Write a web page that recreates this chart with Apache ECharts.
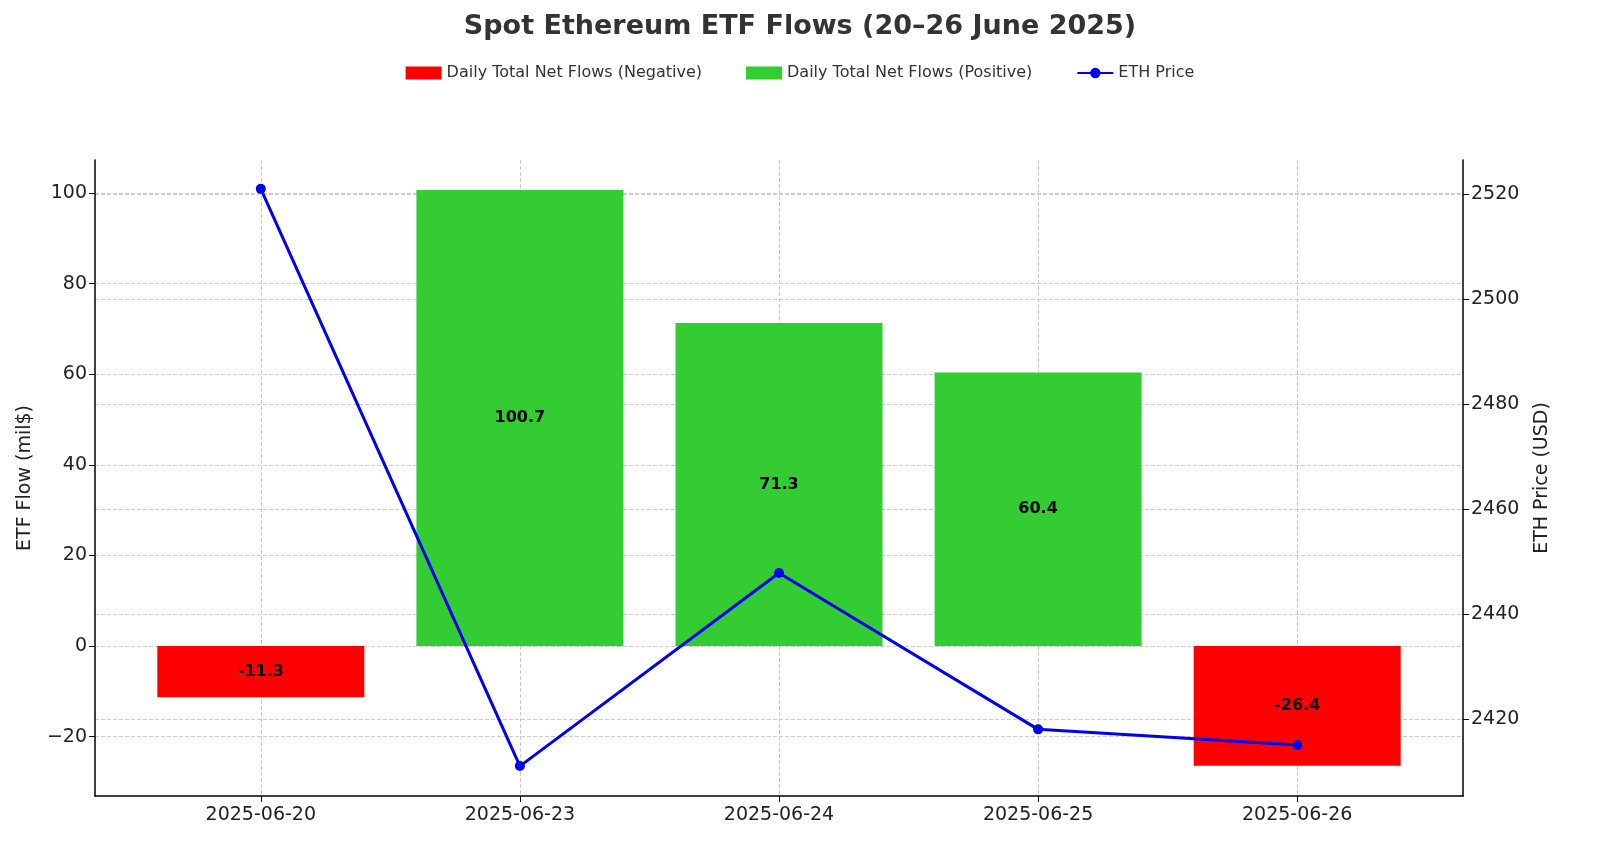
<!DOCTYPE html>
<html><head><meta charset="utf-8">
<script src="https://cdn.jsdelivr.net/npm/echarts@6/dist/echarts.min.js"></script>
<style>html,body{margin:0;padding:0;background:#fff}#c{width:1600px;height:854px}</style>
</head><body><div id="c"></div>
<script>
const categories = ['2025-06-20','2025-06-23','2025-06-24','2025-06-25','2025-06-26'];
const flows = [-11.3, 100.7, 71.3, 60.4, -26.4];
const ethPrice = [2521, 2411, 2447.8, 2418, 2415];
const leftTicks = [-20, 0, 20, 40, 60, 80, 100];
const rightTicks = [2420, 2440, 2460, 2480, 2500, 2520];

const F = 'DejaVu Sans';
const neg = flows.map((v,i)=> v<0 ? [i,v] : [i,null]);
const pos = flows.map((v,i)=> v>=0 ? [i,v] : [i,null]);
const price = ethPrice.map((v,i)=>[i,v]);
const grid = {type:'dashed', color:'#cccccc', width:1};
const lbl = {show:true, position:'inside', color:'#000', fontWeight:'bold', fontSize:16, fontFamily:F, formatter:p=>p.value[1].toFixed(1)};

const chart = echarts.init(document.getElementById('c'));
chart.setOption({
  animation:false,
  textStyle:{fontFamily:F},
  title:{text:'Spot Ethereum ETF Flows (20–26 June 2025)', left:'center', top:8,
    textStyle:{fontSize:27, fontWeight:'bold', color:'#333', fontFamily:F}},
  legend:{top:60, left:'center', itemWidth:36, itemHeight:13, itemGap:44,
    textStyle:{fontSize:16, color:'#333', fontFamily:F},
    data:[{name:'Daily Total Net Flows (Negative)', icon:'rect'},{name:'Daily Total Net Flows (Positive)', icon:'rect'},{name:'ETH Price'}]},
  grid:{left:95, right:137, top:160, bottom:58},
  xAxis:{type:'value', min:-0.64, max:4.64,
    axisLine:{show:true, onZero:false, lineStyle:{color:'#000', width:1.5}},
    axisTick:{show:true, customValues:[0,1,2,3,4], length:6, lineStyle:{color:'#000'}},
    axisLabel:{customValues:[0,1,2,3,4], formatter:v=>categories[Math.round(v)], fontSize:19, color:'#222', margin:10},
    splitLine:{show:true, lineStyle:grid}},
  yAxis:[
    {type:'value', min:-33.1, max:107.3, name:'ETF Flow (mil$)', nameLocation:'middle', nameGap:60,
     nameTextStyle:{fontSize:19, color:'#222'},
     axisLine:{show:true, onZero:false, lineStyle:{color:'#000', width:1.5}},
     axisTick:{show:true, customValues:leftTicks, length:6, lineStyle:{color:'#000'}},
     axisLabel:{customValues:leftTicks, fontSize:19, color:'#222', formatter:v=>String(v).replace('-','\u2212')},
     splitLine:{show:true, lineStyle:grid}},
    {type:'value', min:2405.3, max:2526.5, name:'ETH Price (USD)', nameLocation:'middle', nameGap:70,
     nameRotate:90, nameTextStyle:{fontSize:19, color:'#222'},
     axisLine:{show:true, onZero:false, lineStyle:{color:'#000', width:1.5}},
     axisTick:{show:true, customValues:rightTicks, length:6, lineStyle:{color:'#000'}},
     axisLabel:{customValues:rightTicks, fontSize:19, color:'#222', formatter:v=>String(v)},
     splitLine:{show:true, lineStyle:grid}}
  ],
  series:[
    {name:'Daily Total Net Flows (Negative)', type:'bar', stack:'f', data:neg, barWidth:207, itemStyle:{color:'#ff0000'}, label:lbl},
    {name:'Daily Total Net Flows (Positive)', type:'bar', stack:'f', data:pos, barWidth:207, itemStyle:{color:'#33cc33'}, label:lbl},
    {name:'ETH Price', type:'line', yAxisIndex:1, data:price, symbol:'circle', symbolSize:10,
     lineStyle:{color:'#0000ee', width:3}, itemStyle:{color:'#0000ee'}, z:5}
  ]
});
</script></body></html>
